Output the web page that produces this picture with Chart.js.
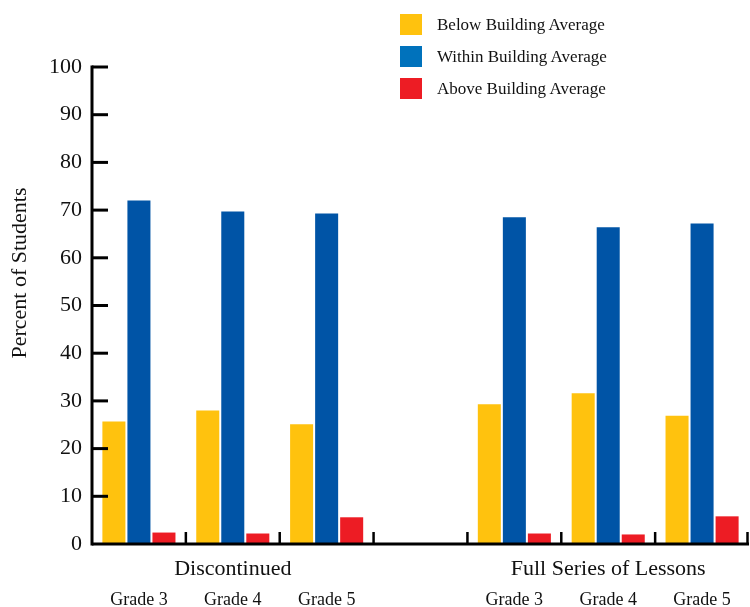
<!DOCTYPE html>
<html>
<head>
<meta charset="utf-8">
<script src="https://cdn.jsdelivr.net/npm/chart.js@4.4.1/dist/chart.umd.min.js"></script>
<style>
    body { margin: 0; background: #fff; }
    #wrap { position: relative; width: 750px; height: 607px; }
    #legend { position: absolute; left: 400px; top: 14px; font-family: "Liberation Serif", serif; font-size: 17px; color: #111; }
    .item { display: flex; align-items: center; height: 21px; margin-bottom: 11px; }
    .swatch { width: 22px; height: 21px; margin-right: 15px; }
</style>
</head>
<body>
<div id="wrap">
    <canvas id="chart" width="750" height="607"></canvas>
    <div id="legend"></div>
</div>
<script>
// Chart data
const gradeLabels = ['Grade 3', 'Grade 4', 'Grade 5', '', 'Grade 3', 'Grade 4', 'Grade 5'];
const groupLabels = ['Discontinued', 'Full Series of Lessons'];
const groupCenters = [1, 5]; // category index under which each group label sits
const seriesNames = ['Below Building Average', 'Within Building Average', 'Above Building Average'];
const belowValues = [25.7, 28.0, 25.1, null, 29.3, 31.6, 26.9];
const withinValues = [72.0, 69.7, 69.3, null, 68.5, 66.4, 67.2];
const aboveValues = [2.4, 2.2, 5.6, null, 2.2, 2.0, 5.8];
const yTicks = [0, 10, 20, 30, 40, 50, 60, 70, 80, 90, 100];

const barColors = ['#FFC20E', '#0054A6', '#ED1C24'];
const legendColors = ['#FFC20E', '#0072BC', '#ED1C24'];
const serif = '"Liberation Serif", serif';

// Axes, inner ticks, group labels and y title
const decorPlugin = {
    id: 'decor',
    afterDatasetsDraw(chart) {
        const ctx = chart.ctx;
        const area = chart.chartArea;
        const x = chart.scales.x;
        const y = chart.scales.y;
        const base = y.getPixelForValue(0);
        const step = x.getPixelForValue(1) - x.getPixelForValue(0);

        ctx.save();
        ctx.strokeStyle = '#000';
        ctx.lineCap = 'butt';

        // y axis line + ticks pointing inward
        ctx.lineWidth = 3;
        ctx.beginPath();
        ctx.moveTo(area.left, y.getPixelForValue(100) - 1.5);
        ctx.lineTo(area.left, base + 1.5);
        ctx.stroke();
        yTicks.forEach(v => {
            if (v === 0) return;
            const py = y.getPixelForValue(v);
            ctx.beginPath();
            ctx.moveTo(area.left, py);
            ctx.lineTo(area.left + 16, py);
            ctx.stroke();
        });

        // x axis line
        ctx.beginPath();
        ctx.moveTo(area.left, base);
        ctx.lineTo(area.right, base);
        ctx.stroke();

        // x ticks at category boundaries, pointing up
        ctx.lineWidth = 2.5;
        for (let i = 0; i < gradeLabels.length; i++) {
            const px = Math.min(x.getPixelForValue(i) + step / 2, area.right - 1.5);
            ctx.beginPath();
            ctx.moveTo(px, base);
            ctx.lineTo(px, base - 12);
            ctx.stroke();
        }

        // group labels
        ctx.fillStyle = '#111';
        ctx.font = '22px ' + serif;
        ctx.textAlign = 'center';
        ctx.textBaseline = 'middle';
        groupLabels.forEach((g, i) => {
            ctx.fillText(g, x.getPixelForValue(groupCenters[i]), 569);
        });

        // y axis title
        ctx.translate(20, 273);
        ctx.rotate(-Math.PI / 2);
        ctx.fillText('Percent of Students', 0, 0);
        ctx.restore();
    }
};

const datasets = [belowValues, withinValues, aboveValues].map((vals, i) => ({
    label: seriesNames[i],
    data: vals,
    backgroundColor: barColors[i],
    borderWidth: 0,
    categoryPercentage: 0.8,
    barPercentage: 0.92
}));

new Chart(document.getElementById('chart'), {
    type: 'bar',
    data: { labels: gradeLabels, datasets: datasets },
    options: {
        responsive: false,
        animation: false,
        layout: { padding: { top: 67, right: 1, left: 0, bottom: 0 } },
        plugins: {
            legend: { display: false },
            tooltip: { enabled: false }
        },
        scales: {
            x: {
                grid: { display: false, drawTicks: false },
                border: { display: false },
                ticks: {
                    padding: 45,
                    color: '#111',
                    font: { family: serif, size: 18 },
                    maxRotation: 0,
                    autoSkip: false
                },
                afterFit(scale) {
                    scale.height = 63;
                    scale.paddingLeft = 0;
                    scale.paddingRight = 0;
                }
            },
            y: {
                min: 0,
                max: 100,
                afterBuildTicks(scale) { scale.ticks = yTicks.map(v => ({ value: v })); },
                grid: { display: false, drawTicks: false },
                border: { display: false },
                ticks: {
                    padding: 10,
                    color: '#111',
                    font: { family: serif, size: 22 }
                },
                afterFit(scale) { scale.width = 92; }
            }
        }
    },
    plugins: [decorPlugin]
});

// HTML legend
const legend = document.getElementById('legend');
seriesNames.forEach((name, i) => {
    const item = document.createElement('div');
    item.className = 'item';
    item.innerHTML = `<div class="swatch" style="background:${legendColors[i]}"></div><span>${name}</span>`;
    legend.appendChild(item);
});
</script>
</body>
</html>
